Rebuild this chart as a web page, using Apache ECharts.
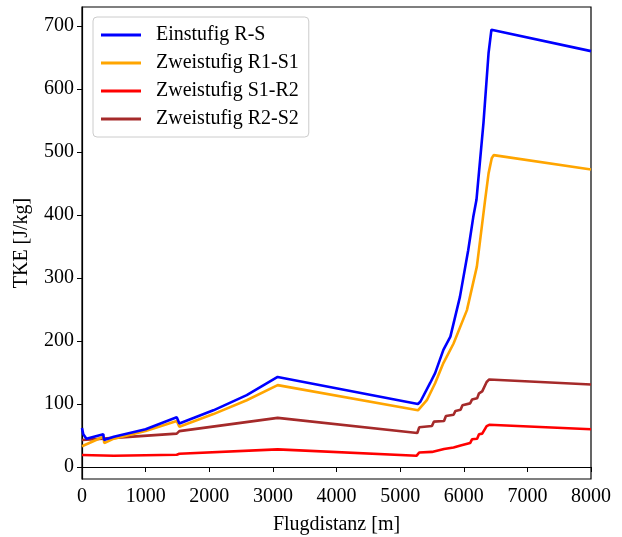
<!DOCTYPE html>
<html>
<head>
<meta charset="utf-8">
<script src="https://cdn.jsdelivr.net/npm/echarts@6/dist/echarts.min.js"></script>
<style>
  html, body { margin: 0; padding: 0; background: #fff; }
  #chart { width: 622px; height: 537px; }
</style>
</head>
<body>
<div id="chart"></div>
<script>
// Einstufig R-S
var rsX = [0, 20, 70, 335, 345, 500, 1000, 1489, 1530, 2065, 2589, 3075, 5280, 5320, 5470, 5550, 5680, 5790, 5940, 6070, 6150, 6200, 6310, 6390, 6435, 8000];
var rsY = [62, 52, 45, 52, 43, 48, 60, 79, 69, 90, 114, 143, 100, 104, 133, 149, 186, 207, 270, 344, 397, 424, 546, 657, 694, 660];
// Zweistufig R1-S1
var r1s1X = [0, 335, 350, 500, 1000, 1489, 1530, 2065, 2589, 3075, 5280, 5420, 5550, 5680, 5840, 6050, 6206, 6336, 6390, 6440, 6470, 8000];
var r1s1Y = [33, 48, 38, 45, 57, 73, 64, 84, 106, 130, 90, 106, 133, 165, 196, 249, 318, 424, 466, 490, 495, 472];
// Zweistufig S1-R2
var s1r2X = [0, 500, 1489, 1530, 3075, 5260, 5300, 5500, 5530, 5690, 5720, 5840, 5870, 5950, 5980, 6100, 6130, 6210, 6240, 6290, 6360, 6400, 8000];
var s1r2Y = [19, 18, 19.5, 21, 28, 18, 23, 24, 27, 28.5, 30, 31, 33, 34, 36.5, 38, 44, 45, 52, 53, 65, 67, 60];
// Zweistufig R2-S2
var r2s2X = [0, 335, 350, 1489, 1530, 3075, 5270, 5300, 5500, 5530, 5690, 5720, 5840, 5870, 5950, 5980, 6100, 6130, 6210, 6240, 6290, 6360, 6400, 8000];
var r2s2Y = [43, 45, 42, 53, 57, 78, 54, 63, 65, 72, 73, 81, 83, 89, 91, 98, 101, 107, 109, 117, 120, 135, 139, 131];

var seriesNames = ["Einstufig R-S", "Zweistufig R1-S1", "Zweistufig S1-R2", "Zweistufig R2-S2"];
var seriesColors = ["#0000ff", "#ffa500", "#ff0000", "#a52a2a"];
var yTicks = [0, 100, 200, 300, 400, 500, 600, 700];

var FONT = "Liberation Serif";

function zip(xs, ys) {
    return xs.map(function(x, i) { return [x, ys[i]]; });
}

var chart = echarts.init(document.getElementById("chart"));

var allData = [zip(rsX, rsY), zip(r1s1X, r1s1Y), zip(s1r2X, s1r2Y), zip(r2s2X, r2s2Y)];

var option = {
    animation: false,
    backgroundColor: "#fff",
    grid: {
        left: 82, right: 31, top: 7, bottom: 58,
        outerBoundsMode: "none",
        containLabel: false,
        show: true, borderColor: "#000", borderWidth: 1.2
    },
    legend: {
        orient: "vertical",
        left: 93, top: 17,
        padding: [8, 10, 8, 8],
        itemGap: 8,
        itemWidth: 40,
        itemHeight: 3,
        icon: "rect",
        borderColor: "#cccccc",
        borderWidth: 1,
        borderRadius: 4,
        textStyle: { fontFamily: FONT, fontSize: 20, color: "#000", padding: [0, 0, 0, 10] },
        data: seriesNames
    },
    xAxis: {
        type: "value",
        min: 0, max: 8000, interval: 1000,
        name: "Flugdistanz [m]",
        nameLocation: "middle",
        nameGap: 36,
        nameTextStyle: { fontFamily: FONT, fontSize: 20, color: "#000" },
        axisLine: { lineStyle: { color: "#000", width: 1.2 } },
        axisTick: { show: true, length: 5, lineStyle: { color: "#000" } },
        axisLabel: {
            fontFamily: FONT, fontSize: 20, color: "#000", margin: 8,
            formatter: function(v) { return String(v); }
        },
        splitLine: { show: false }
    },
    yAxis: {
        type: "value",
        min: -19, max: 730,
        name: "TKE [J/kg]",
        nameLocation: "middle",
        nameGap: 50,
        nameTextStyle: { fontFamily: FONT, fontSize: 20, color: "#000" },
        axisLine: { show: true, lineStyle: { color: "#000", width: 1.2 } },
        axisTick: { show: true, length: 5, customValues: yTicks, lineStyle: { color: "#000" } },
        axisLabel: { fontFamily: FONT, fontSize: 20, color: "#000", margin: 8, customValues: yTicks },
        splitLine: { show: false }
    },
    series: seriesNames.map(function(name, i) {
        return {
            name: name,
            type: "line",
            data: allData[i],
            symbol: "none",
            color: seriesColors[i],
            lineStyle: { width: 2.6, color: seriesColors[i] },
            z: 10 - i
        };
    })
};

chart.setOption(option);
</script>
</body>
</html>
